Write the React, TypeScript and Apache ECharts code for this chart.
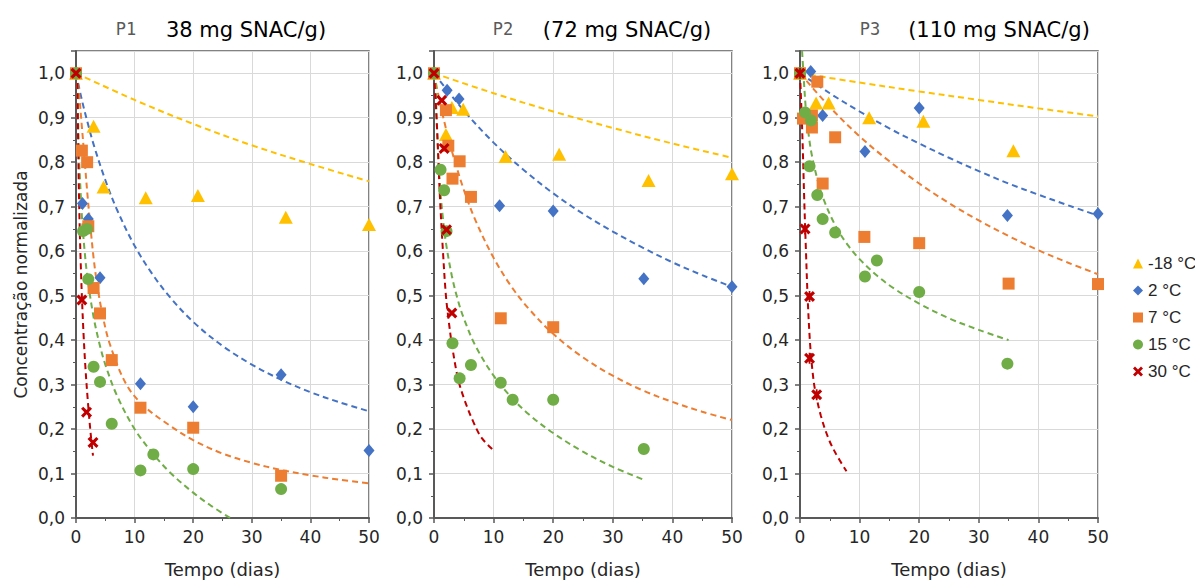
import React, { useEffect, useRef } from 'react';
import * as echarts from 'echarts';

// ---- categories / labels ----
const temps = ['-18 °C', '2 °C', '7 °C', '15 °C', '30 °C'];
const colors = ['#FFC000', '#4472C4', '#ED7D31', '#70AD47', '#C00000'];
const panelTags = ['P1', 'P2', 'P3'];
const panelSubtitles = ['38 mg SNAC/g)', '(72 mg SNAC/g)', '(110 mg SNAC/g)'];
const xAxisTitle = 'Tempo (dias)';
const yAxisTitle = 'Concentração normalizada';

// ---- P1 measured points [dias, C/C0] ----
const p1Pts18 = [[0, 1.0], [3, 0.881], [4.7, 0.744], [11.9, 0.72], [20.8, 0.725], [35.8, 0.676], [50, 0.66]];
const p1Pts2 = [[0, 1.0], [1.1, 0.707], [2.1, 0.672], [4.1, 0.54], [11, 0.302], [20, 0.25], [35, 0.322], [50, 0.152]];
const p1Pts7 = [[0, 1.0], [1, 0.826], [1.9, 0.8], [2.1, 0.656], [3, 0.517], [4.1, 0.46], [6.1, 0.355], [11, 0.248], [20, 0.203], [35, 0.095]];
const p1Pts15 = [[0, 1.0], [1.2, 0.645], [1.9, 0.65], [2.1, 0.537], [3, 0.34], [4.1, 0.306], [6.1, 0.212], [11, 0.107], [13.2, 0.143], [20, 0.11], [35, 0.065]];
const p1Pts30 = [[0, 1.0], [1, 0.49], [1.8, 0.238], [2.9, 0.17]];

// ---- P1 fitted curves ----
const p1Fit18 = [[0, 1], [10, 0.94], [20, 0.886], [30, 0.838], [40, 0.796], [50, 0.757]];
const p1Fit2 = [[0, 1], [1, 0.94], [2, 0.888], [3, 0.84], [5, 0.76], [7, 0.693], [10, 0.612], [13, 0.549], [16, 0.497], [20, 0.441], [25, 0.387], [30, 0.345], [35, 0.311], [40, 0.283], [45, 0.26], [50, 0.24]];
const p1Fit7 = [[0, 1], [0.4, 0.97], [1, 0.88], [1.5, 0.8], [2, 0.72], [2.5, 0.65], [3, 0.585], [3.5, 0.535], [4.4, 0.465], [5.8, 0.39], [8.6, 0.3], [11.5, 0.253], [16, 0.208], [20, 0.175], [25, 0.145], [30, 0.124], [35, 0.108], [40, 0.096], [45, 0.086], [50, 0.078]];
const p1Fit15 = [[0.21, 1.0], [0.5, 0.824], [1, 0.68], [1.5, 0.596], [2, 0.536], [3, 0.452], [4, 0.392], [5, 0.345], [7, 0.275], [10, 0.2], [13, 0.147], [16, 0.103], [20, 0.057], [23, 0.028], [26.3, 0]];
const p1Fit30 = [[0.23, 1.0], [0.4, 0.81], [0.6, 0.67], [0.8, 0.575], [1, 0.5], [1.3, 0.41], [1.6, 0.34], [2, 0.266], [2.5, 0.19], [2.9, 0.14]];

// ---- P2 measured points ----
const p2Pts18 = [[0, 1.0], [2, 0.862], [3, 0.923], [4.9, 0.919], [12, 0.813], [21, 0.818], [36, 0.759], [50, 0.774]];
const p2Pts2 = [[0, 1.0], [2.2, 0.962], [4.2, 0.942], [11, 0.702], [20, 0.69], [35.2, 0.538], [50, 0.52]];
const p2Pts7 = [[0, 1.0], [2, 0.917], [2.4, 0.837], [3.1, 0.763], [4.3, 0.802], [6.2, 0.722], [11.2, 0.449], [20, 0.429]];
const p2Pts15 = [[0, 1.0], [1.1, 0.783], [1.7, 0.737], [2.1, 0.645], [3.1, 0.393], [4.3, 0.314], [6.2, 0.344], [11.2, 0.304], [13.2, 0.266], [20, 0.266], [35.2, 0.155]];
const p2Pts30 = [[0, 1.0], [1.3, 0.939], [1.7, 0.831], [2.1, 0.648], [3, 0.461]];

// ---- P2 fitted curves ----
const p2Fit18 = [[0, 1], [10, 0.955], [20, 0.914], [30, 0.877], [40, 0.842], [50, 0.81]];
const p2Fit2 = [[0, 1], [5, 0.916], [10, 0.844], [15, 0.783], [20, 0.73], [25, 0.684], [30, 0.644], [35, 0.608], [40, 0.575], [45, 0.546], [50, 0.52]];
const p2Fit7 = [[0, 1], [1, 0.934], [2, 0.876], [3, 0.825], [5, 0.738], [7, 0.668], [10, 0.585], [13, 0.52], [16, 0.469], [20, 0.414], [25, 0.361], [30, 0.32], [35, 0.287], [40, 0.261], [45, 0.239], [50, 0.22]];
const p2Fit15 = [[0.26, 1.0], [0.5, 0.877], [1, 0.748], [1.5, 0.673], [2, 0.619], [3, 0.544], [4, 0.49], [5, 0.449], [7, 0.386], [10, 0.32], [13, 0.271], [16, 0.232], [20, 0.191], [25, 0.149], [30, 0.115], [35, 0.087]];
const p2Fit30 = [[0, 1], [0.5, 0.88], [1, 0.72], [1.5, 0.6], [2, 0.5], [2.5, 0.44], [3, 0.39], [4, 0.315], [5, 0.27], [6.6, 0.216], [8, 0.18], [10, 0.152]];

// ---- P3 measured points ----
const p3Pts18 = [[0, 1.0], [2.7, 0.933], [4.8, 0.933], [11.6, 0.9], [20.7, 0.892], [35.8, 0.826]];
const p3Pts2 = [[0, 1.0], [1.8, 1.004], [3.8, 0.905], [10.9, 0.824], [20, 0.922], [34.8, 0.68], [50, 0.684]];
const p3Pts7 = [[0, 1.0], [0.5, 0.898], [2, 0.905], [2, 0.878], [2.9, 0.981], [3.8, 0.752], [5.9, 0.856], [10.8, 0.632], [20, 0.618], [35, 0.527], [50, 0.526]];
const p3Pts15 = [[0, 1.0], [0.85, 0.912], [1.6, 0.791], [1.85, 0.894], [2.9, 0.726], [3.8, 0.672], [5.9, 0.642], [10.9, 0.543], [12.9, 0.579], [20, 0.508], [34.8, 0.347]];
const p3Pts30 = [[0, 1.0], [0.85, 0.65], [1.6, 0.498], [1.6, 0.359], [2.8, 0.277]];

// ---- P3 fitted curves ----
const p3Fit18 = [[0, 1], [10, 0.979], [20, 0.959], [30, 0.94], [40, 0.921], [50, 0.903]];
const p3Fit2 = [[0, 1], [5, 0.955], [10, 0.914], [15, 0.876], [20, 0.842], [25, 0.81], [30, 0.78], [35, 0.752], [40, 0.727], [45, 0.703], [50, 0.68]];
const p3Fit7 = [[0, 1], [5, 0.924], [10, 0.858], [15, 0.802], [20, 0.752], [25, 0.708], [30, 0.669], [35, 0.634], [40, 0.602], [45, 0.574], [50, 0.548]];
const p3Fit15 = [[0.35, 1.05], [0.5, 1.016], [1, 0.916], [1.5, 0.857], [2, 0.815], [3, 0.757], [4, 0.715], [6, 0.656], [8, 0.614], [10, 0.582], [13, 0.544], [16, 0.514], [20, 0.482], [25, 0.449], [30, 0.423], [35, 0.4]];
const p3Fit30 = [[0, 1], [0.4, 0.86], [0.7, 0.72], [1, 0.6], [1.3, 0.49], [1.7, 0.39], [2.1, 0.33], [2.5, 0.29], [3.5, 0.23], [4.8, 0.178], [6, 0.145], [7.8, 0.105]];

const panelPoints = [
  [p1Pts18, p1Pts2, p1Pts7, p1Pts15, p1Pts30],
  [p2Pts18, p2Pts2, p2Pts7, p2Pts15, p2Pts30],
  [p3Pts18, p3Pts2, p3Pts7, p3Pts15, p3Pts30],
];
const panelFits = [
  [p1Fit18, p1Fit2, p1Fit7, p1Fit15, p1Fit30],
  [p2Fit18, p2Fit2, p2Fit7, p2Fit15, p2Fit30],
  [p3Fit18, p3Fit2, p3Fit7, p3Fit15, p3Fit30],
];

// ---- layout / style ----
const gridLefts = [76, 434, 800];
const gridWidths = [293, 298, 298];
const gridTop = 51;
const gridHeight = 473;
const tagCenters = [126, 503, 870];
const subCenters = [246, 627, 999];

const crossPath = 'path://M0,2L2,0L5,3L8,0L10,2L7,5L10,8L8,10L5,7L2,10L0,8L3,5Z';
const starPath = 'path://M0,2L2,0L5,3L8,0L10,2L7,5L10,8L8,10L5,7L2,10L0,8L3,5ZM4.2,0L5.8,0L5.8,10L4.2,10Z';
const symbols = ['triangle', 'diamond', 'rect', 'circle', crossPath];
const symbolSizes: any[] = [[14, 13], [11, 13], 12, 12, 11];
const legendSymbols = ['triangle', 'diamond', 'rect', 'circle', crossPath];

const AXIS = '#595959';
const FONT = 'DejaVu Sans';

export default function App() {
  const ref = useRef<HTMLDivElement>(null);
  useEffect(() => {
    if (!ref.current) return;
    const chart = echarts.init(ref.current, null, { renderer: 'svg' });

    const yFmt = (v: number) => {
      const r = Math.round(v * 10);
      return Math.abs(v * 10 - r) < 1e-6 ? (r / 10).toFixed(1).replace('.', ',') : '';
    };

    const grid = gridLefts.map((l, i) => ({
      left: l, top: gridTop, width: gridWidths[i], height: gridHeight,
      show: true, borderColor: AXIS, borderWidth: 1.5, backgroundColor: 'transparent',
    }));

    const xAxis = gridLefts.map((_, i) => ({
      gridIndex: i, type: 'value', min: 0, max: 50, interval: 10,
      axisLine: { show: true, onZero: false, lineStyle: { color: AXIS, width: 2 } },
      axisTick: { show: true, length: 5, lineStyle: { color: AXIS, width: 1.5 } },
      minorTick: { show: true, splitNumber: 2, length: 3, lineStyle: { color: AXIS, width: 1 } },
      splitLine: { show: true, lineStyle: { color: '#d9d9d9', width: 1 } },
      axisLabel: { fontSize: 17, color: '#262626', fontFamily: FONT, margin: 10 },
      name: xAxisTitle, nameLocation: 'middle', nameGap: 42,
      nameTextStyle: { fontSize: 18, color: '#262626', fontFamily: FONT },
    }));

    const yAxis = gridLefts.map((_, i) => ({
      gridIndex: i, type: 'value', min: 0, max: 1.05, interval: 0.1,
      axisLine: { show: true, onZero: false, lineStyle: { color: AXIS, width: 2 } },
      axisTick: { show: true, length: 5, lineStyle: { color: AXIS, width: 1.5 } },
      minorTick: { show: true, splitNumber: 2, length: 3, lineStyle: { color: AXIS, width: 1 } },
      splitLine: { show: true, lineStyle: { color: '#d9d9d9', width: 1 } },
      axisLabel: { fontSize: 17, color: '#262626', fontFamily: FONT, margin: 11, formatter: yFmt },
      name: i === 0 ? yAxisTitle : '', nameLocation: 'middle', nameGap: 47,
      nameTextStyle: { fontSize: 17, color: '#262626', fontFamily: FONT },
    }));

    const series: any[] = [];
    panelFits.forEach((fits, pi) => {
      fits.forEach((f, ti) => {
        series.push({
          type: 'line', name: temps[ti] + ' ajuste', xAxisIndex: pi, yAxisIndex: pi,
          data: f, showSymbol: false, symbol: 'none', smooth: 0.35,
          lineStyle: { color: colors[ti], width: 2, type: [6, 4] },
          itemStyle: { color: colors[ti] }, z: 2, silent: true,
        });
      });
    });
    panelPoints.forEach((pts, pi) => {
      pts.forEach((d, ti) => {
        series.push({
          type: 'scatter', name: temps[ti], xAxisIndex: pi, yAxisIndex: pi, data: d,
          symbol: pi === 2 && ti === 4 ? starPath : symbols[ti],
          symbolSize: symbolSizes[ti],
          itemStyle: { color: colors[ti], opacity: 1 }, z: 3,
        });
      });
    });

    const graphic: any[] = [];
    panelTags.forEach((t, i) => {
      graphic.push({
        type: 'text', x: tagCenters[i], y: 29,
        style: { text: t, fontSize: 17, fontFamily: 'DejaVu Sans Mono', fill: '#595959', align: 'center', verticalAlign: 'middle' },
      });
      graphic.push({
        type: 'text', x: subCenters[i], y: 30,
        style: { text: panelSubtitles[i], fontSize: 21, fontFamily: FONT, fill: '#000000', align: 'center', verticalAlign: 'middle' },
      });
    });

    chart.setOption({
      animation: false,
      backgroundColor: '#ffffff',
      grid, xAxis, yAxis, series, graphic,
      legend: {
        orient: 'vertical', left: 1128, top: 250, itemWidth: 10, itemHeight: 10, itemGap: 10,
        textStyle: { fontSize: 17, fontFamily: 'Liberation Sans', color: '#262626' },
        data: temps.map((t, i) => ({ name: t, icon: legendSymbols[i] })),
      },
    });
    return () => chart.dispose();
  }, []);
  return <div ref={ref} style={{ position: 'absolute', left: 0, top: 0, width: 1195, height: 583, background: '#fff' }} />;
}
